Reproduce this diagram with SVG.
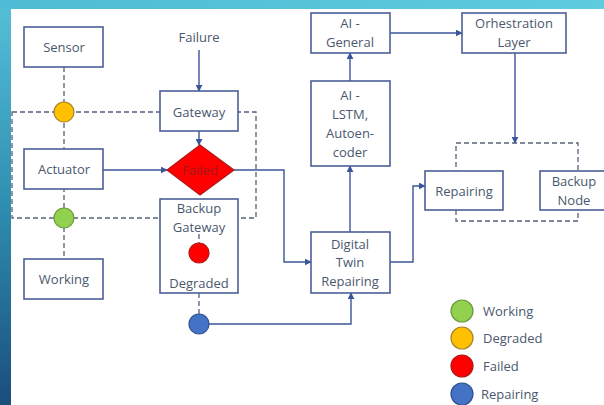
<svg xmlns="http://www.w3.org/2000/svg" width="604" height="405" viewBox="0 0 604 405">
<defs>
<linearGradient id="bg" x1="0" y1="0" x2="0" y2="1">
<stop offset="0" stop-color="#55c0d8"/>
<stop offset="0.5" stop-color="#2f8fb0"/>
<stop offset="1" stop-color="#1a4e7a"/>
</linearGradient>
<linearGradient id="topbg" x1="0" y1="0" x2="1" y2="0">
<stop offset="0" stop-color="#4fbcd5"/>
<stop offset="1" stop-color="#5ecbdf"/>
</linearGradient>
<marker id="ah" viewBox="0 0 10 10" refX="9" refY="5" markerWidth="7" markerHeight="7" orient="auto" markerUnits="userSpaceOnUse">
<path d="M0,0 L10,5 L0,10 z" fill="#3b559b"/>
</marker>
<style>
.box{fill:#fff;stroke:#4a5f96;stroke-width:1.6}
.t{font-family:"Open Sans","Liberation Sans",sans-serif;font-size:13px;fill:#4a586e;text-anchor:middle;dominant-baseline:central}
.tl{font-family:"Open Sans","Liberation Sans",sans-serif;font-size:13px;fill:#4a586e;dominant-baseline:central}
.ln{fill:none;stroke:#3b559b;stroke-width:1.4}
.dash{fill:none;stroke:#55627a;stroke-width:1.3;stroke-dasharray:5,3}
.g{fill:#92d050;stroke:#6a9a3c;stroke-width:1.2}
.o{fill:#ffc000;stroke:#a8832a;stroke-width:1.2}
.r{fill:#ff0000;stroke:#b01818;stroke-width:1.2}
.b{fill:#4472c4;stroke:#2f528f;stroke-width:1.2}
</style>
</defs>
<rect x="0" y="0" width="604" height="405" fill="url(#bg)"/>
<rect x="0" y="0" width="604" height="9" fill="url(#topbg)"/>
<rect x="11" y="9" width="593" height="396" fill="#ffffff"/>

<g id="dashed-groups">
<rect x="12" y="112" width="244" height="106" class="dash"/>
<rect x="456" y="143" width="122" height="78" class="dash"/>
<line x1="64" y1="67" x2="64" y2="259" class="dash"/>
<line x1="199" y1="234" x2="199" y2="243" class="dash"/>
<line x1="199" y1="293" x2="199" y2="314" class="dash"/>
</g>

<g id="connectors">
<line x1="199" y1="50" x2="199" y2="91" class="ln" marker-end="url(#ah)"/>
<line x1="199" y1="131" x2="199" y2="145" class="ln" marker-end="url(#ah)"/>
<line x1="103" y1="170" x2="167" y2="170" class="ln" marker-end="url(#ah)"/>
<polyline points="234,170 284,170 284,262 311,262" class="ln" marker-end="url(#ah)"/>
<polyline points="209,324 351,324 351,293" class="ln" marker-end="url(#ah)"/>
<line x1="350" y1="232" x2="350" y2="166" class="ln" marker-end="url(#ah)"/>
<line x1="350" y1="81" x2="350" y2="53" class="ln" marker-end="url(#ah)"/>
<line x1="390" y1="33" x2="462" y2="33" class="ln" marker-end="url(#ah)"/>
<line x1="515" y1="53" x2="515" y2="143" class="ln" marker-end="url(#ah)"/>
<polyline points="390,262 413,262 413,186 425,186" class="ln" marker-end="url(#ah)"/>
</g>

<g id="sensor"><rect x="24" y="27" width="79" height="40" class="box"/><text x="64" y="47" class="t">Sensor</text></g>
<g id="failure"><text x="199" y="37" class="t">Failure</text></g>
<g id="gateway"><rect x="160" y="91" width="78" height="40" class="box"/><text x="199" y="112" class="t">Gateway</text></g>
<g id="degraded-dot"><circle cx="64" cy="112" r="10" class="o"/></g>
<g id="actuator"><rect x="24" y="149" width="79" height="40" class="box"/><text x="64" y="169" class="t">Actuator</text></g>
<g id="failed"><polygon points="200,145 234,170 200,195 167,170" class="r"/><text x="200" y="170" class="t" style="fill:#a01818">Failed</text></g>
<g id="working-dot"><circle cx="64" cy="218" r="10" class="g"/></g>
<g id="working"><rect x="24" y="259" width="79" height="40" class="box"/><text x="64" y="279" class="t">Working</text></g>
<g id="backup-gateway">
<rect x="160" y="199" width="78" height="94" class="box"/>
<text x="199" y="208" class="t">Backup</text>
<text x="199" y="227" class="t">Gateway</text>
<line x1="199" y1="234" x2="199" y2="243" class="dash"/>
<circle cx="199" cy="253" r="10" class="r"/>
<text x="199" y="283" class="t">Degraded</text>
</g>
<g id="repairing-dot"><circle cx="199" cy="324" r="10" class="b"/></g>
<g id="digital-twin"><rect x="311" y="232" width="79" height="61" class="box"/>
<text x="350" y="244" class="t">Digital</text><text x="350" y="262" class="t">Twin</text><text x="350" y="281" class="t">Repairing</text></g>
<g id="ai-lstm"><rect x="311" y="81" width="79" height="85" class="box"/>
<text x="350" y="95" class="t">AI -</text><text x="350" y="114" class="t">LSTM,</text><text x="350" y="133" class="t">Autoen-</text><text x="350" y="152" class="t">coder</text></g>
<g id="ai-general"><rect x="311" y="13" width="79" height="40" class="box"/>
<text x="350" y="23" class="t">AI -</text><text x="350" y="42" class="t">General</text></g>
<g id="orchestration"><rect x="462" y="13" width="104" height="40" class="box"/>
<text x="514" y="23" class="t">Orhestration</text><text x="514" y="42" class="t">Layer</text></g>
<g id="repairing"><rect x="425" y="171" width="78" height="39" class="box"/><text x="464" y="191" class="t">Repairing</text></g>
<g id="backup-node"><rect x="540" y="171" width="72" height="39" class="box"/>
<text x="574" y="181" class="t">Backup</text><text x="574" y="200" class="t">Node</text></g>

<g id="legend">
<circle cx="462" cy="311" r="11" class="g"/><text x="483" y="311" class="tl">Working</text>
<circle cx="462" cy="338" r="11" class="o"/><text x="483" y="338" class="tl">Degraded</text>
<circle cx="462" cy="366" r="11" class="r"/><text x="483" y="366" class="tl">Failed</text>
<circle cx="462" cy="394" r="11" class="b"/><text x="481" y="394" class="tl">Repairing</text>
</g>
</svg>
